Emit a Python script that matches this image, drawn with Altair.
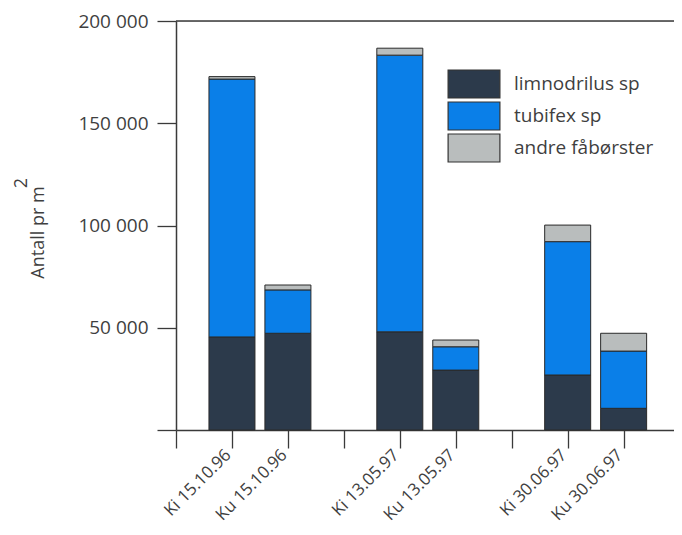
import altair as alt
import pandas as pd

# ---- data ----
samples = ["Ki 15.10.96", "Ku 15.10.96", "Ki 13.05.97", "Ku 13.05.97", "Ki 30.06.97", "Ku 30.06.97"]
slots = [1, 2, 4, 5, 7, 8]
limnodrilus = [45500, 47300, 48000, 29300, 26900, 10600]
tubifex = [126100, 21200, 135300, 11400, 65200, 28000]
andre = [1200, 2400, 3400, 3300, 8100, 8700]

series = ["limnodrilus sp", "tubifex sp", "andre fåbørster"]
colors = ["#2c3a4b", "#0a7fe8", "#b9bdbd"]
y_ticks = [0, 50000, 100000, 150000, 200000]

rows = []
for i, s in enumerate(samples):
    for k, (name, vals) in enumerate(zip(series, [limnodrilus, tubifex, andre])):
        rows.append({"sample": s, "slot": slots[i], "serie": name, "ord": k, "value": vals[i]})
df = pd.DataFrame(rows)

label_expr = "".join(f"datum.value == {p} ? '{s}' : " for p, s in zip(slots, samples)) + "''"
y_label_expr = "datum.value == 0 ? '' : replace(format(datum.value, ',d'), ',', ' ')"

FONT = "Open Sans"
TXT = "#3f3f3f"
LINE = "#3a3a3a"

bars = alt.Chart(df).mark_bar(size=46, stroke="#2a2a2a", strokeWidth=1).encode(
    x=alt.X("slot:Q",
            scale=alt.Scale(domain=[0, 8.9], nice=False, zero=False, padding=0),
            axis=alt.Axis(values=list(range(0, 9)), labelExpr=label_expr, title=None,
                          labelAngle=-45, labelAlign="right", labelBaseline="middle",
                          labelFont=FONT, labelFontSize=17, labelColor=TXT,
                          tickSize=18, tickColor=LINE, tickWidth=1.3,
                          domainColor=LINE, domainWidth=1.5, grid=False,
                          labelPadding=4, labelOffset=-4, labelOverlap=False)),
    y=alt.Y("value:Q", stack="zero",
            scale=alt.Scale(domain=[0, 200000], nice=False),
            axis=alt.Axis(values=y_ticks, labelExpr=y_label_expr, grid=False,
                          title="Antall pr m", titleFont=FONT, titleFontSize=18,
                          titleFontWeight="normal", titleColor=TXT, titleAngle=270,
                          titleX=-133, titleY=211, titleAlign="center",
                          titleBaseline="alphabetic",
                          labelFont=FONT, labelFontSize=19, labelColor=TXT,
                          labelPadding=9, tickSize=19, tickColor=LINE, tickWidth=1.3,
                          domainColor=LINE, domainWidth=1.5)),
    color=alt.Color("serie:N",
                    scale=alt.Scale(domain=series, range=colors),
                    legend=alt.Legend(title=None, orient="none", legendX=283, legendY=48,
                                      padding=0,
                                      symbolType="M-1.85,-1H1.85V1H-1.85Z",
                                      symbolSize=784, symbolStrokeColor="#333333",
                                      symbolStrokeWidth=1.2, symbolOpacity=1,
                                      labelOffset=25, rowPadding=-2,
                                      labelFont=FONT, labelFontSize=19, labelColor=TXT)),
    order=alt.Order("ord:Q"),
)

top_line = alt.Chart(pd.DataFrame({"v": [200000]})).mark_rule(
    color=LINE, strokeWidth=1.5).encode(y=alt.Y("v:Q"))

sup = alt.Chart(pd.DataFrame({"t": ["2"]})).mark_text(
    font=FONT, fontSize=18, color=TXT, angle=270, align="center", baseline="alphabetic"
).encode(text="t:N", x=alt.value(-149), y=alt.value(162))

chart = alt.layer(bars, top_line, sup).properties(
    width=498, height=409,
    autosize=alt.AutoSizeParams(type="none"),
    padding={"left": 168, "top": 13, "right": 0, "bottom": 97},
).configure_view(stroke=None).configure(background="white")

chart.save("out.html", embed_options={"renderer": "svg", "actions": False})
